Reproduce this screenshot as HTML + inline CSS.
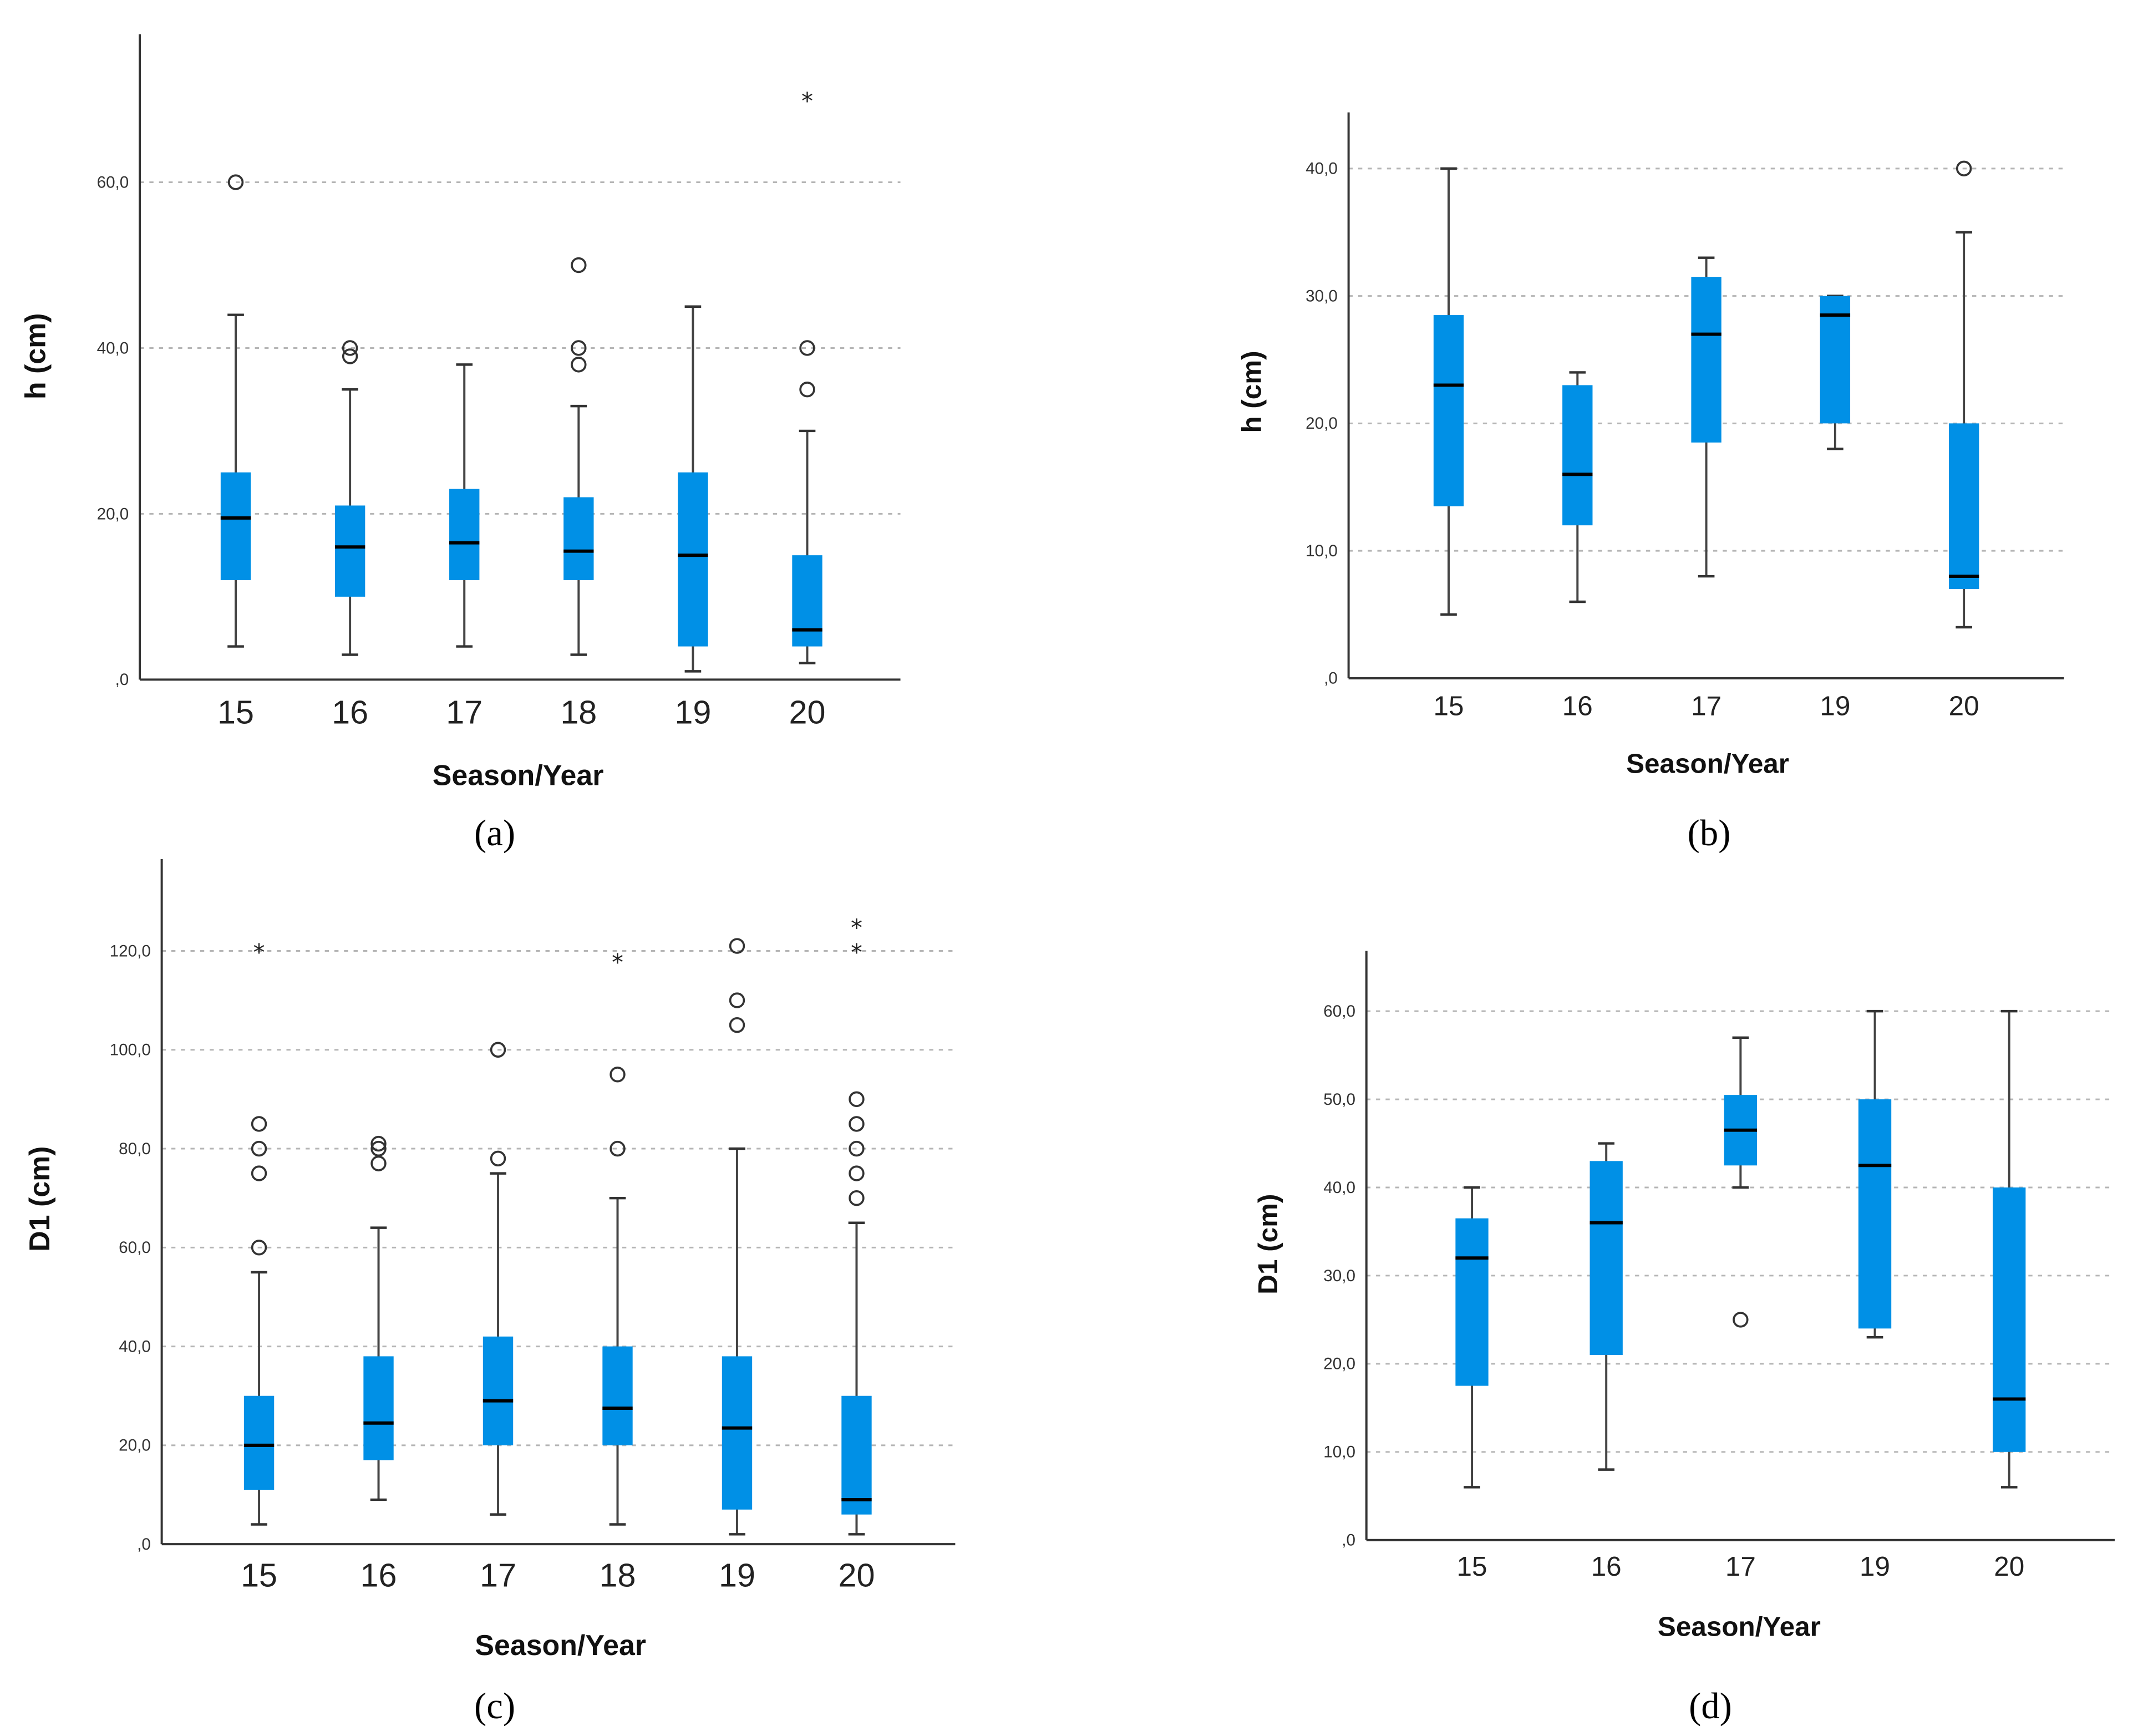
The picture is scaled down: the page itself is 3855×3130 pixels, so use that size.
<!DOCTYPE html>
<html><head><meta charset="utf-8">
<style>
html,body{margin:0;padding:0;background:#fff;}
svg{display:block;}
</style></head>
<body>
<svg id="fig" width="3855" height="3130" viewBox="0 0 1560 1267" preserveAspectRatio="none" xmlns="http://www.w3.org/2000/svg"></svg>
<script>
// ---- data: panel a (h cm, all seasons) ----
const catsA = ["15","16","17","18","19","20"];
const loA = [4,3,4,3,1,2];
const q1A = [12,10,12,12,4,4];
const medA = [19.5,16,16.5,15.5,15,6];
const q3A = [25,21,23,22,25,15];
const hiA = [44,35,38,33,45,30];
const outA = [[60],[39,40],[],[38,40,50],[],[35,40]];
const starA = [[],[],[],[],[],[70]];
const ticksA = [0,20,40,60];
const tickLabA = [",0","20,0","40,0","60,0"];
// ---- data: panel b ----
const catsB = ["15","16","17","19","20"];
const loB = [5,6,8,18,4];
const q1B = [13.5,12,18.5,20,7];
const medB = [23,16,27,28.5,8];
const q3B = [28.5,23,31.5,30,20];
const hiB = [40,24,33,30,35];
const outB = [[],[],[],[],[40]];
const starB = [[],[],[],[],[]];
const ticksB = [0,10,20,30,40];
const tickLabB = [",0","10,0","20,0","30,0","40,0"];
// ---- data: panel c (D1 cm) ----
const catsC = ["15","16","17","18","19","20"];
const loC = [4,9,6,4,2,2];
const q1C = [11,17,20,20,7,6];
const medC = [20,24.5,29,27.5,23.5,9];
const q3C = [30,38,42,40,38,30];
const hiC = [55,64,75,70,80,65];
const outC = [[60,75,80,85],[77,80,81],[78,100],[80,95],[105,110,121],[70,75,80,85,90]];
const starC = [[120],[],[],[118],[],[120,125]];
const ticksC = [0,20,40,60,80,100,120];
const tickLabC = [",0","20,0","40,0","60,0","80,0","100,0","120,0"];
// ---- data: panel d ----
const catsD = ["15","16","17","19","20"];
const loD = [6,8,40,23,6];
const q1D = [17.5,21,42.5,24,10];
const medD = [32,36,46.5,42.5,16];
const q3D = [36.5,43,50.5,50,40];
const hiD = [40,45,57,60,60];
const outD = [[],[],[25],[],[]];
const starD = [[],[],[],[],[]];
const ticksD = [0,10,20,30,40,50,60];
const tickLabD = [",0","10,0","20,0","30,0","40,0","50,0","60,0"];

const NS="http://www.w3.org/2000/svg";
const svg=document.getElementById('fig');
function mk(tag,attrs,parent){const e=document.createElementNS(NS,tag);for(const k in attrs)e.setAttribute(k,attrs[k]);(parent||svg).appendChild(e);return e;}

function panel(id,L,cats,lo,q1,med,q3,hi,outs,stars,ticks,tickLab,ytitle,letter){
  const g=mk('g',{});
  
  
  const y=v=>L.y0+(v-L.v0)*(L.y1-L.y0)/(L.v1-L.v0);
  const x=i=>L.xc0+i*L.dx;
  ticks.forEach((t,i)=>{
    if(t!==0){const gl=mk('line',{x1:L.ax,x2:L.xr,y1:y(t),y2:y(t),stroke:'#b5b5b5','stroke-width':1.2,'stroke-dasharray':'3,4'},g);
      
      }
    const tl=mk('text',{x:L.ax-8,y:y(t)+4,'text-anchor':'end','font-family':'Liberation Sans, sans-serif','font-size':L.tfs,fill:'#333'},g);
    tl.textContent=tickLab[i];
    
    
  });
  cats.forEach((c,i)=>{
    const cx=x(i), w=L.bw;
    const wl=mk('line',{x1:cx,x2:cx,y1:y(hi[i]),y2:y(lo[i]),stroke:'#444','stroke-width':1.6},g);
    
    
    [lo[i],hi[i]].forEach(v=>{const cp=mk('line',{x1:cx-6,x2:cx+6,y1:y(v),y2:y(v),stroke:'#333','stroke-width':1.8},g);
      
      });
    const b=mk('rect',{x:cx-w/2,y:y(q3[i]),width:w,height:y(q1[i])-y(q3[i]),fill:'#0090e6'},g);
    
    
    const m=mk('line',{x1:cx-w/2,x2:cx+w/2,y1:y(med[i]),y2:y(med[i]),stroke:'#000','stroke-width':2.4},g);
    
    
    outs[i].forEach(v=>{const o=mk('circle',{cx:cx,cy:y(v),r:5,fill:'none',stroke:'#333','stroke-width':1.5},g);
      
      });
    stars[i].forEach(v=>{const s=mk('text',{x:cx,y:y(v)+7,'text-anchor':'middle','font-family':'DejaVu Sans, sans-serif','font-size':17,fill:'#222'},g);
      s.textContent='*';
      
      });
    const cl=mk('text',{x:cx,y:L.y0+L.cly,'text-anchor':'middle','font-family':'Liberation Sans, sans-serif','font-size':L.cfs,fill:'#222'},g);
    cl.textContent=c;
    
    
  });
  const ya=mk('line',{x1:L.ax,x2:L.ax,y1:L.top,y2:L.y0,stroke:'#333','stroke-width':1.6},g);
  
  
  const xa=mk('line',{x1:L.ax,x2:L.xr,y1:L.y0,y2:L.y0,stroke:'#333','stroke-width':1.6},g);
  
  
  const xt=mk('text',{x:L.xtx,y:L.xty,'text-anchor':'middle','font-family':'Liberation Sans, sans-serif','font-weight':'bold','font-size':L.tits,fill:'#111'},g);
  xt.textContent='Season/Year';
  
  
  const yt=mk('text',{x:0,y:0,transform:`translate(${L.ytx},${L.yty}) rotate(-90)`,'text-anchor':'middle','font-family':'Liberation Sans, sans-serif','font-weight':'bold','font-size':L.tits,fill:'#111'},g);
  yt.textContent=ytitle;
  
  
  const lt=mk('text',{x:L.lx,y:L.ly,'text-anchor':'middle','font-family':'Liberation Serif, serif','font-size':27,fill:'#000'},g);
  lt.textContent='('+letter+')';
  
  
}

panel('a',{ax:102,top:25,y0:496,xr:657,v0:0,v1:60,y1:133,xc0:172,dx:83.4,bw:22,tfs:12,cfs:24,cly:32,tits:21,xtx:378,xty:573,ytx:33,yty:260,lx:361,ly:617},
  catsA,loA,q1A,medA,q3A,hiA,outA,starA,ticksA,tickLabA,'h (cm)','a');
panel('b',{ax:984,top:82,y0:495,xr:1506,v0:0,v1:40,y1:123,xc0:1057,dx:94,bw:22,tfs:12,cfs:20,cly:27,tits:20,xtx:1246,xty:564,ytx:920,yty:286,lx:1247,ly:617},
  catsB,loB,q1B,medB,q3B,hiB,outB,starB,ticksB,tickLabB,'h (cm)','b');
panel('c',{ax:118,top:627,y0:1127,xr:697,v0:0,v1:120,y1:694,xc0:189,dx:87.2,bw:22,tfs:12,cfs:24,cly:31,tits:21,xtx:409,xty:1208,ytx:36,yty:875,lx:361,ly:1254},
  catsC,loC,q1C,medC,q3C,hiC,outC,starC,ticksC,tickLabC,'D1 (cm)','c');
panel('d',{ax:997,top:694,y0:1124,xr:1543,v0:0,v1:60,y1:738,xc0:1074,dx:98,bw:24,tfs:12,cfs:20,cly:26,tits:20,xtx:1269,xty:1194,ytx:932,yty:908,lx:1248,ly:1254},
  catsD,loD,q1D,medD,q3D,hiD,outD,starD,ticksD,tickLabD,'D1 (cm)','d');
</script>
</body></html>
